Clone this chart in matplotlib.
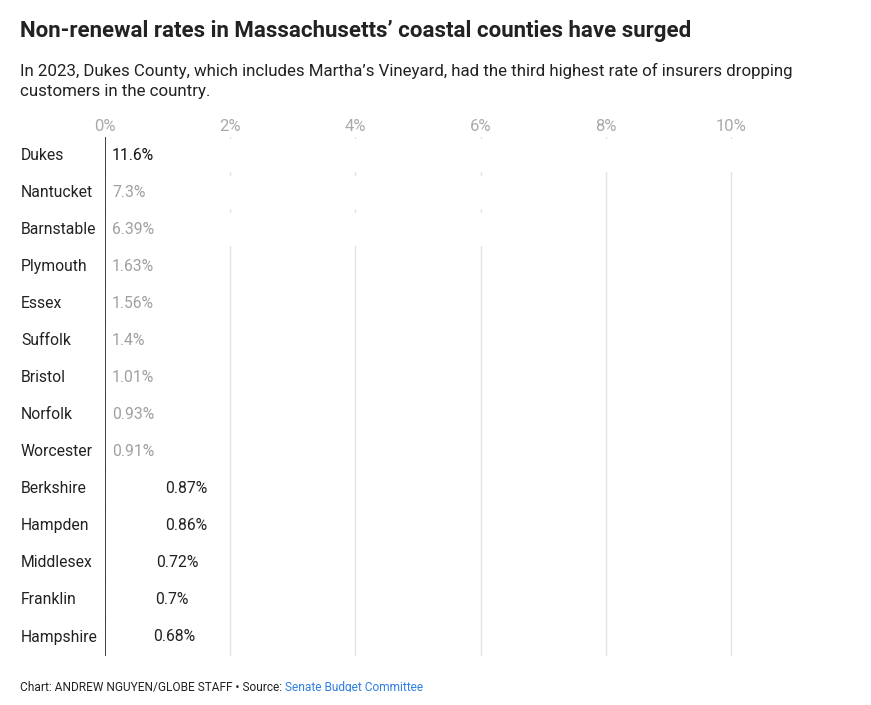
import matplotlib.pyplot as plt
from matplotlib.patches import Rectangle

# data
counties = ['Dukes', 'Nantucket', 'Barnstable', 'Plymouth', 'Essex', 'Suffolk',
            'Bristol', 'Norfolk', 'Worcester', 'Berkshire', 'Hampden',
            'Middlesex', 'Franklin', 'Hampshire']
rates = [11.6, 7.3, 6.39, 1.63, 1.56, 1.4, 1.01, 0.93, 0.91, 0.87, 0.86,
         0.72, 0.7, 0.68]
labels = ['11.6%', '7.3%', '6.39%', '1.63%', '1.56%', '1.4%', '1.01%', '0.93%',
          '0.91%', '0.87%', '0.86%', '0.72%', '0.7%', '0.68%']
ticks = [0, 2, 4, 6, 8, 10]
tick_labels = ['0%', '2%', '4%', '6%', '8%', '10%']

plt.rcParams['font.family'] = ['Roboto', 'DejaVu Sans']

W, H = 871, 705
fig = plt.figure(figsize=(W / 100, H / 100), dpi=100)

# axes placed in pixel terms: 0% at x=105, 62.6 px per percent
px_per = 62.6
x0 = 105
xmax = 12
top, bottom = 136.5, 655.5
ax = fig.add_axes([x0 / W, 1 - bottom / H, xmax * px_per / W, (bottom - top) / H])

n = len(counties)
y = list(range(n))
ax.barh(y, rates, height=0.89, color='white', zorder=2)
ax.set_xlim(0, xmax)
ax.set_ylim(n - 0.5, -0.5)

for t in ticks:
    ax.axvline(t, color='#e3e3e3', lw=1, zorder=1)
ax.axvline(0, color='#333333', lw=1.3, zorder=3)

for s in ax.spines.values():
    s.set_visible(False)

ax.xaxis.tick_top()
ax.set_xticks(ticks)
ax.set_xticklabels(tick_labels, fontsize=12, color='#aaaaaa')
ax.tick_params(axis='x', length=0, pad=2)
ax.set_yticks(y)
ax.set_yticklabels([])
ax.tick_params(axis='y', length=0)

fs = 11.3
for i, (name, v, lab) in enumerate(zip(counties, rates, labels)):
    fig.text(21 / W, 1 - (155 + 37.08 * i) / H, name, fontsize=fs,
             color='#222222', va='center', ha='left')
    if i == 0:
        ax.annotate(lab, (0, i), xytext=(7, 0), textcoords='offset pixels',
                    va='center', ha='left', fontsize=fs, color='#111111', zorder=4)
    elif i < 9:
        ax.annotate(lab, (0, i), xytext=(7, 0), textcoords='offset pixels',
                    va='center', ha='left', fontsize=fs, color='#a0a0a0', zorder=4)
    else:
        ax.annotate(lab, (v, i), xytext=(6, 0), textcoords='offset pixels',
                    va='center', ha='left', fontsize=fs, color='#222222', zorder=4)

fig.text(20 / W, 1 - 31 / H, 'Non-renewal rates in Massachusetts\u2019 coastal counties have surged',
         fontsize=16, fontweight='bold', color='#222222', va='center', ha='left')
fig.text(20 / W, 1 - 81 / H,
         'In 2023, Dukes County, which includes Martha\u2019s Vineyard, had the third highest rate of insurers dropping\ncustomers in the country.',
         fontsize=12.2, color='#222222', va='center', ha='left', linespacing=1.35)

foot = fig.text(20 / W, 1 - 687 / H, 'Chart: ANDREW NGUYEN/GLOBE STAFF \u2022 Source: ',
                fontsize=8.6, color='#222222', va='center', ha='left')
fig.canvas.draw()
bb = foot.get_window_extent()
fig.text(bb.x1 / W, 1 - 687 / H, 'Senate Budget Committee', fontsize=8.6,
         color='#2f7fe0', va='center', ha='left')

# bottom edge of the source line is cut off in the original
fig.patches.append(Rectangle((0, 0), 1, (H - 692) / H, transform=fig.transFigure,
                             color='white', zorder=10))

fig.savefig('out.png', dpi=100)
